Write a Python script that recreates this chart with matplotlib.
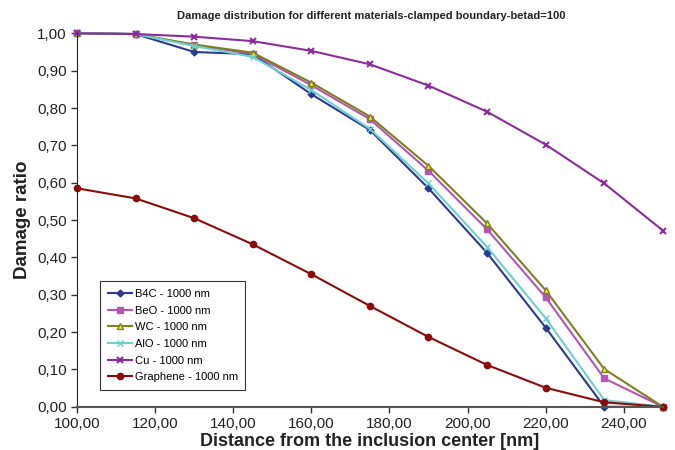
import matplotlib
matplotlib.use("Agg")
import matplotlib.pyplot as plt
from matplotlib.ticker import FuncFormatter

plt.rcParams["font.family"] = ["Liberation Sans", "DejaVu Sans"]

distance = [100, 115, 130, 145, 160, 175, 190, 205, 220, 235, 250]

b4c = [1.00, 0.998, 0.950, 0.944, 0.837, 0.741, 0.585, 0.412, 0.212, 0.000, 0.000]
beo = [1.00, 0.998, 0.968, 0.945, 0.861, 0.770, 0.632, 0.475, 0.293, 0.076, 0.000]
wc = [1.00, 0.998, 0.970, 0.948, 0.868, 0.777, 0.645, 0.491, 0.312, 0.101, 0.000]
alo = [1.00, 0.998, 0.966, 0.937, 0.848, 0.744, 0.598, 0.428, 0.237, 0.018, 0.000]
cu = [1.00, 0.998, 0.991, 0.979, 0.953, 0.917, 0.860, 0.790, 0.702, 0.598, 0.472]
graphene = [0.585, 0.558, 0.505, 0.435, 0.355, 0.270, 0.187, 0.112, 0.051, 0.012, 0.000]

fig = plt.figure(figsize=(6.75, 4.5), dpi=100)
ax = fig.add_axes([0.114, 0.096, 0.868, 0.830])

ax.plot(distance, b4c, color="#2B3990", marker="D", ms=3.5, lw=1.5, label="B4C - 1000 nm")
ax.plot(distance, beo, color="#B455B4", marker="s", ms=5, lw=1.5, label="BeO - 1000 nm")
ax.plot(distance, wc, color="#7F7F1F", marker="^", ms=5, mfc="#F0F020", mec="#7F7F1F",
        lw=1.5, label="WC - 1000 nm")
ax.plot(distance, alo, color="#6FCFCF", marker="x", ms=5, lw=1.5, label="AlO - 1000 nm")
ax.plot(distance, cu, color="#8A2D9A", marker="x", ms=5, mew=1.5, lw=1.5, label="Cu - 1000 nm")
ax.plot(distance, graphene, color="#8B0A0A", marker="o", ms=4.5, lw=1.5, label="Graphene - 1000 nm")

ax.set_xlim(100, 250)
ax.set_ylim(0, 1.0)
ax.set_xticks(range(100, 250, 20))
ax.set_yticks([i / 10 for i in range(11)])
comma = FuncFormatter(lambda v, p: f"{v:.2f}".replace(".", ","))
ax.xaxis.set_major_formatter(comma)
ax.yaxis.set_major_formatter(comma)
ax.tick_params(labelsize=11, colors="#333333", length=4, width=1)
ax.tick_params(axis="both", labelcolor="#222222")

for s in ["top", "right"]:
    ax.spines[s].set_visible(False)
ax.spines["left"].set_color("#222222")
ax.spines["bottom"].set_color("#555555")
ax.spines["bottom"].set_linewidth(1.5)
for line in ax.lines:
    line.set_clip_on(False)

ax.set_xlabel("Distance from the inclusion center [nm]", fontsize=13, fontweight="bold",
              color="#222222", labelpad=1)
ax.set_ylabel("Damage ratio", fontsize=13.5, fontweight="bold", color="#222222", labelpad=4)
fig.suptitle("Damage distribution for different materials-clamped boundary-betad=100",
             x=0.55, y=0.975, fontsize=8, fontweight="bold", color="#222222")

leg = ax.legend(loc="lower left", bbox_to_anchor=(0.03, 0.03), fontsize=8, frameon=True,
                fancybox=False, edgecolor="black", handlelength=2.2, labelspacing=0.6,
                borderpad=0.7, handletextpad=0.2)
leg.get_frame().set_linewidth(0.8)

fig.savefig("out.png", dpi=100)
